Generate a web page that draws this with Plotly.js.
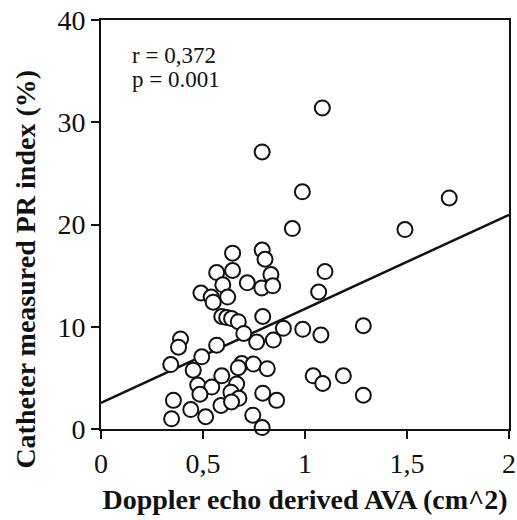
<!DOCTYPE html>
<html>
<head>
<meta charset="utf-8">
<script src="https://cdn.plot.ly/plotly-3.0.1.min.js"></script>
<style>html,body{margin:0;padding:0;background:#fff;}#chart{width:517px;height:520px;}</style>
</head>
<body>
<div id="chart"></div>
<script>
// Doppler echo derived AVA (cm^2)
const avaX = [
  1.085, 0.79, 0.987, 1.707, 0.938, 1.49,
  0.645, 0.79, 0.804, 0.567, 0.645, 0.833, 1.098, 0.717, 0.597, 0.788, 0.842, 1.067,
  0.49, 0.54, 0.55, 0.621, 0.592, 0.616, 0.64, 0.673, 0.793,
  0.894, 0.989, 1.078, 1.286, 0.70, 0.763, 0.845,
  0.39, 0.38, 0.567, 0.494, 0.342, 0.452,
  0.69, 0.673, 0.747, 0.815, 0.592, 0.474, 0.543, 0.665, 0.485, 0.637, 0.676, 0.793, 0.861,
  1.04, 1.087, 1.188, 1.286,
  0.355, 0.44, 0.588, 0.64, 0.346, 0.513, 0.744, 0.79
];
// Catheter measured PR index (%)
const prIndex = [
  31.4, 27.1, 23.2, 22.6, 19.6, 19.5,
  17.2, 17.5, 16.6, 15.3, 15.5, 15.1, 15.4, 14.3, 14.1, 13.8, 14.0, 13.4,
  13.3, 12.9, 12.4, 12.9, 11.0, 10.9, 10.8, 10.5, 11.0,
  9.85, 9.75, 9.2, 10.1, 9.35, 8.5, 8.7,
  8.8, 8.0, 8.2, 7.06, 6.3, 5.75,
  6.4, 6.0, 6.35, 5.9, 5.2, 4.3, 4.1, 4.4, 3.4, 3.6, 3.0, 3.5, 2.8,
  5.2, 4.45, 5.2, 3.3,
  2.8, 1.9, 2.3, 2.65, 1.0, 1.2, 1.35, 0.14
];
// regression line endpoints
const fitX = [0, 2];
const fitY = [2.55, 20.95];

const xTickVals = [0, 0.5, 1, 1.5, 2];
const xTickText = ['0', '0,5', '1', '1,5', '2'];
const yTickVals = [0, 10, 20, 30, 40];
const yTickText = ['0', '10', '20', '30', '40'];

const statLines = ['r = 0,372', 'p = 0.001'];
const yTitle = 'Catheter measured PR index (%)';
const xTitle = 'Doppler echo derived AVA (cm^2)';

const serif = 'Liberation Serif, Times New Roman, serif';

const traces = [
  {
    x: fitX, y: fitY, type: 'scatter', mode: 'lines',
    line: {color: '#111', width: 2.5}, hoverinfo: 'skip', cliponaxis: false
  },
  {
    x: avaX, y: prIndex, type: 'scatter', mode: 'markers',
    marker: {size: 15, color: '#fff', line: {color: '#111', width: 2}},
    cliponaxis: false
  }
];

const annotations = statLines.map((t, i) => ({
  xref: 'paper', yref: 'paper', x: 0.071, y: 0.912 - i * 0.057,
  xanchor: 'left', yanchor: 'middle',
  text: t, align: 'left', showarrow: false,
  font: {family: serif, size: 23, color: '#111'}
}));
annotations.push({
  xref: 'paper', yref: 'paper', x: -0.186, y: 0.39,
  xanchor: 'center', yanchor: 'middle', textangle: -90,
  text: yTitle, showarrow: false,
  font: {family: serif, size: 28, color: '#111', weight: 'bold'}
});

const layout = {
  width: 517, height: 520,
  margin: {l: 101, r: 8, t: 20, b: 91},
  paper_bgcolor: '#fff', plot_bgcolor: '#fff',
  showlegend: false,
  font: {family: serif, color: '#111'},
  xaxis: {
    range: [0, 2], showgrid: false, zeroline: false,
    showline: true, linecolor: '#111', linewidth: 2, mirror: true,
    ticks: 'outside', ticklen: 8, tickwidth: 2, tickcolor: '#111',
    tickvals: xTickVals, ticktext: xTickText,
    tickfont: {family: serif, size: 28, color: '#111'},
    title: {text: xTitle, font: {family: serif, size: 28, color: '#111', weight: 'bold'}, standoff: 12}
  },
  yaxis: {
    range: [0, 40], showgrid: false, zeroline: false,
    showline: true, linecolor: '#111', linewidth: 2, mirror: true,
    ticks: 'outside', ticklen: 8, tickwidth: 2, tickcolor: '#111',
    tickvals: yTickVals, ticktext: yTickText,
    tickfont: {family: serif, size: 28, color: '#111'}
  },
  annotations: annotations
};

Plotly.newPlot('chart', traces, layout, {displayModeBar: false, staticPlot: true});
</script>
</body>
</html>
